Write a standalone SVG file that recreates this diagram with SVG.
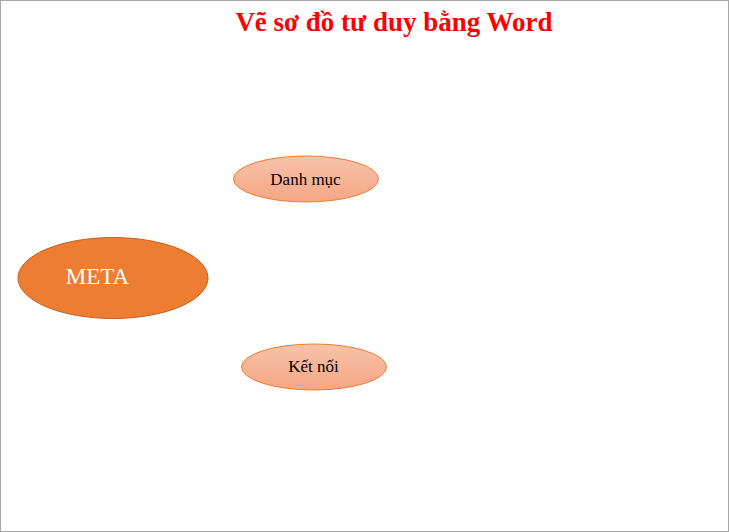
<svg xmlns="http://www.w3.org/2000/svg" width="729" height="532" viewBox="0 0 729 532">
<defs>
<linearGradient id="g1" x1="0" y1="0" x2="0" y2="1">
<stop offset="0" stop-color="#f8c3aa"/>
<stop offset="1" stop-color="#f5a684"/>
</linearGradient>
<style>
.t{font-family:"Liberation Serif","Times New Roman",serif;}
.small{fill:url(#g1);stroke:#ed7d31;stroke-width:1;}
.lbl{font-size:17px;fill:#000;text-anchor:middle;}
</style>
</defs>
<rect x="0.5" y="0.5" width="728" height="531" fill="#fff" stroke="#a6a6a6" stroke-width="1"/>
<text class="t" x="394" y="31" font-size="27" font-weight="bold" fill="#ff0000" text-anchor="middle">Vẽ sơ đồ tư duy bằng Word</text>
<g id="connectors"></g>
<g id="meta">
<ellipse cx="113" cy="278" rx="95" ry="40.5" fill="#ed7d31" stroke="#c0622a" stroke-width="1"/>
<text class="t" x="97.5" y="284" font-size="23" fill="#fff" text-anchor="middle">META</text>
</g>
<g id="danhmuc">
<ellipse class="small" cx="306" cy="179" rx="72.5" ry="23"/>
<text class="t lbl" x="305.5" y="185">Danh mục</text>
</g>
<g id="ketnoi">
<ellipse class="small" cx="314" cy="367" rx="72.5" ry="23"/>
<text class="t lbl" x="313.5" y="372">Kết nối</text>
</g>
</svg>
